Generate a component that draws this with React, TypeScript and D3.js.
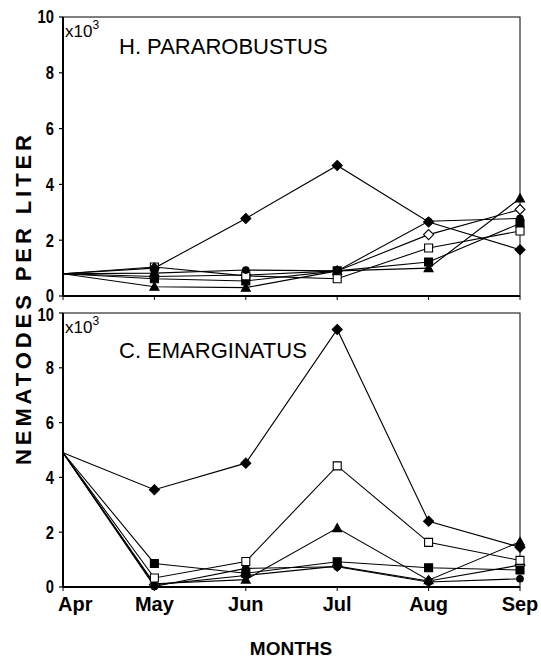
import React from "react";
import * as d3 from "d3";

const months = ["Apr", "May", "Jun", "Jul", "Aug", "Sep"];
const yTicks = [0, 2, 4, 6, 8, 10];

// H. PARAROBUSTUS (x10^3 per liter)
const topFilledDiamond = [0.8, 1.0, 2.78, 4.68, 2.65, 1.66];
const topOpenDiamond = [0.8, 0.7, 0.75, 0.9, 2.2, 3.1];
const topFilledCircle = [0.8, 0.82, 0.93, 0.9, 2.68, 2.78];
const topOpenSquare = [0.8, 1.04, 0.72, 0.62, 1.72, 2.33];
const topFilledSquare = [0.8, 0.62, 0.54, 0.9, 1.22, 2.6];
const topFilledTriangle = [0.8, 0.33, 0.3, 0.9, 1.0, 3.5];

// C. EMARGINATUS (x10^3 per liter)
const botFilledDiamond = [4.9, 3.55, 4.52, 9.4, 2.4, 1.45];
const botOpenSquare = [4.9, 0.33, 0.93, 4.42, 1.63, 0.97];
const botFilledTriangle = [4.9, 0.12, 0.27, 2.15, 0.25, 1.65];
const botFilledSquare = [4.9, 0.86, 0.5, 0.92, 0.7, 0.62];
const botFilledCircle = [4.9, 0.02, 0.68, 0.74, 0.18, 0.3];
const botOpenDiamond = [4.9, 0.08, 0.42, 0.76, 0.22, 0.8];

type Marker = "fdiamond" | "odiamond" | "fcircle" | "osquare" | "fsquare" | "ftriangle";

const topSeries: { m: Marker; v: number[] }[] = [
  { m: "odiamond", v: topOpenDiamond },
  { m: "fsquare", v: topFilledSquare },
  { m: "ftriangle", v: topFilledTriangle },
  { m: "osquare", v: topOpenSquare },
  { m: "fcircle", v: topFilledCircle },
  { m: "fdiamond", v: topFilledDiamond },
];
const botSeries: { m: Marker; v: number[] }[] = [
  { m: "odiamond", v: botOpenDiamond },
  { m: "fcircle", v: botFilledCircle },
  { m: "fsquare", v: botFilledSquare },
  { m: "ftriangle", v: botFilledTriangle },
  { m: "osquare", v: botOpenSquare },
  { m: "fdiamond", v: botFilledDiamond },
];

const FONT = "'Liberation Sans', Arial, Helvetica, sans-serif";

const x = d3.scaleLinear().domain([0, months.length - 1]).range([63, 520]);

const diamondPath = "M0,-5L5,0L0,5L-5,0Z";
const squarePath = "M-4,-4L4,-4L4,4L-4,4Z";
const trianglePath = "M0,-4.5L4.5,3.5L-4.5,3.5Z";
const circlePath = d3.symbol(d3.symbolCircle, 34)()!;

function symbolPath(m: Marker) {
  switch (m) {
    case "fdiamond":
    case "odiamond":
      return diamondPath;
    case "fcircle":
      return circlePath;
    case "osquare":
    case "fsquare":
      return squarePath;
    case "ftriangle":
      return trianglePath;
  }
}

function Panel({
  series,
  top,
  bottom,
  title,
  titleY,
  topLabelShift,
}: {
  series: { m: Marker; v: number[] }[];
  top: number;
  bottom: number;
  title: string;
  titleY: number;
  topLabelShift: number;
}) {
  const y = d3.scaleLinear().domain([0, 10]).range([bottom, top]);
  const line = d3
    .line<number>()
    .x((_, i) => x(i))
    .y((d) => y(d));
  const [x0, x1] = x.range();
  return (
    <g>
      <rect x={x0} y={top} width={x1 - x0} height={bottom - top} fill="none" stroke="#000" strokeWidth={1} />
      <line x1={x0} x2={x0} y1={top} y2={bottom} stroke="#000" strokeWidth={2} />
      <line x1={x0} x2={x1} y1={bottom} y2={bottom} stroke="#000" strokeWidth={2} />
      {yTicks.map((t) => (
        <g key={t}>
          <line x1={x0 - 4} x2={x0} y1={y(t)} y2={y(t)} stroke="#000" strokeWidth={1.2} />
          <text
            transform={`translate(${x0 - 9},${y(t) + (t === 10 ? topLabelShift : 0)}) scale(0.82,1)`}
            dy="0.36em"
            textAnchor="end"
            fontFamily={FONT}
            fontWeight="bold"
            fontSize={18}
          >
            {t}
          </text>
        </g>
      ))}
      {months.map((mo, i) => (
        <line key={mo} x1={x(i)} x2={x(i)} y1={bottom} y2={bottom + 4} stroke="#000" strokeWidth={1} />
      ))}
      <text x={x0 + 2} y={top + 20} fontFamily={FONT} fontSize={17}>
        x10
        <tspan dy={-8} fontSize={12}>
          3
        </tspan>
      </text>
      <text x={119} y={titleY} fontFamily={FONT} fontSize={22}>
        {title}
      </text>
      {series.map((s, si) => (
        <path key={"l" + si} d={line(s.v)!} fill="none" stroke="#000" strokeWidth={1.1} />
      ))}
      {series.map((s, si) =>
        s.v.map((d, i) =>
          i === 0 ? null : (
            <path
              key={"m" + si + "-" + i}
              d={symbolPath(s.m)}
              transform={`translate(${x(i)},${y(d)})`}
              fill={s.m === "odiamond" || s.m === "osquare" ? "#fff" : "#000"}
              stroke="#000"
              strokeWidth={1.1}
            />
          )
        )
      )}
    </g>
  );
}

export default function App() {
  return (
    <svg width={541} height={658} style={{ position: "absolute", left: 0, top: 0, background: "#fff" }}>
      <rect x={0} y={0} width={541} height={658} fill="#fff" />
      <Panel series={topSeries} top={17} bottom={296} title="H. PARAROBUSTUS" titleY={54} topLabelShift={0} />
      <Panel series={botSeries} top={313} bottom={587} title="C. EMARGINATUS" titleY={358} topLabelShift={2} />
      {months.map((mo, i) => (
        <text
          key={mo}
          x={i === 0 ? x(i) - 5 : x(i)}
          y={611}
          textAnchor={i === 0 ? "start" : "middle"}
          fontFamily={FONT}
          fontWeight="bold"
          fontSize={20}
        >
          {mo}
        </text>
      ))}
      <text x={291} y={655} textAnchor="middle" fontFamily={FONT} fontWeight="bold" fontSize={19}>
        MONTHS
      </text>
      <text
        transform="translate(31,300) rotate(-90)"
        textAnchor="middle"
        fontFamily={FONT}
        fontWeight="bold"
        fontSize={22}
        textLength={330}
        lengthAdjust="spacing"
      >
        NEMATODES PER LITER
      </text>
    </svg>
  );
}
